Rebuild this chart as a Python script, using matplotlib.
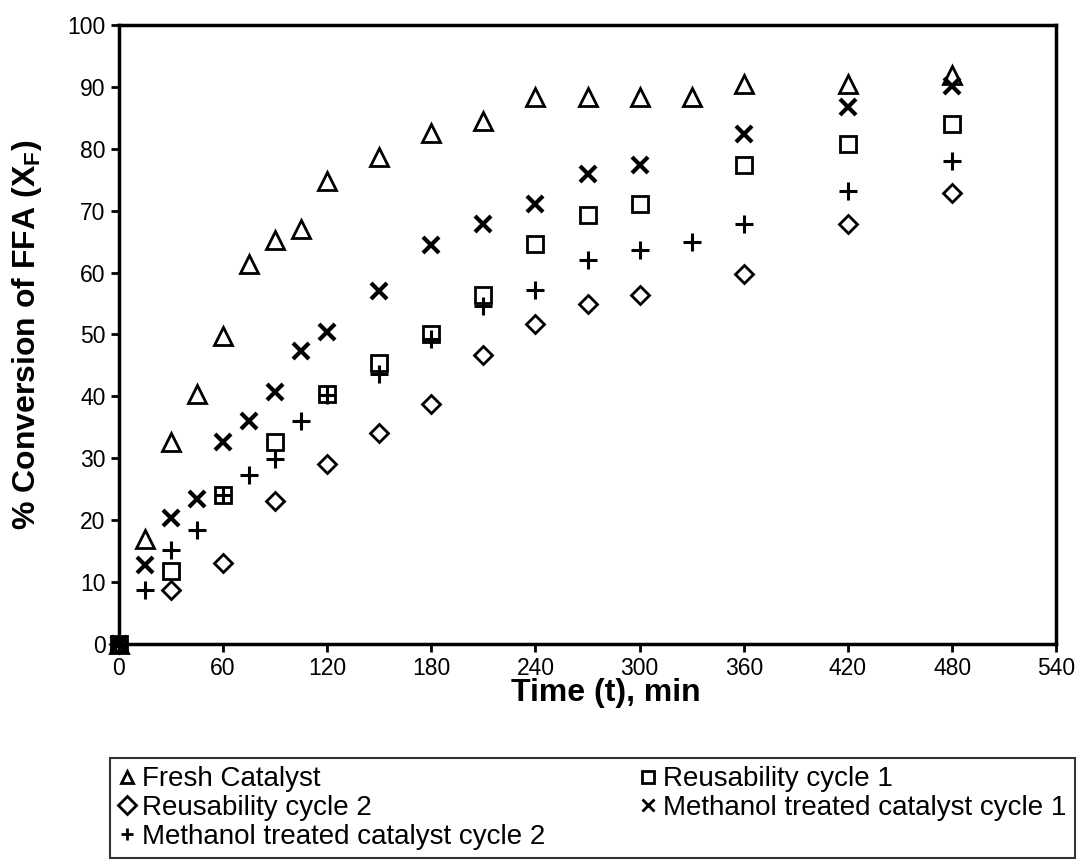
import matplotlib
matplotlib.use('Agg')
import matplotlib.pyplot as plt

plt.rcParams['font.family'] = ['Liberation Sans', 'DejaVu Sans']

# Time points (min) and % conversion of FFA for each run
t_fresh = [0, 15, 30, 45, 60, 75, 90, 105, 120, 150, 180, 210, 240, 270, 300, 330, 360, 420, 480]
x_fresh = [0, 17.0, 32.6, 40.4, 49.8, 61.3, 65.2, 67.1, 74.8, 78.7, 82.6, 84.5, 88.4, 88.4, 88.4, 88.4, 90.5, 90.5, 92.0]

t_reuse1 = [0, 30, 60, 90, 120, 150, 180, 210, 240, 270, 300, 360, 420, 480]
x_reuse1 = [0, 11.7, 24.0, 32.6, 40.3, 45.3, 50.0, 56.4, 64.6, 69.3, 71.0, 77.3, 80.8, 84.0]

t_reuse2 = [0, 30, 60, 90, 120, 150, 180, 210, 240, 270, 300, 360, 420, 480]
x_reuse2 = [0, 8.6, 13.0, 23.0, 29.1, 34.1, 38.7, 46.7, 51.7, 54.9, 56.4, 59.8, 67.9, 72.8]

t_meoh1 = [0, 15, 30, 45, 60, 75, 90, 105, 120, 150, 180, 210, 240, 270, 300, 360, 420, 480]
x_meoh1 = [0, 12.7, 20.3, 23.4, 32.6, 36.0, 40.7, 47.3, 50.4, 57.0, 64.5, 67.9, 71.1, 76.0, 77.4, 82.4, 86.8, 90.1]

t_meoh2 = [0, 15, 30, 45, 60, 75, 90, 105, 120, 150, 180, 210, 240, 270, 300, 330, 360, 420, 480]
x_meoh2 = [0, 8.7, 15.1, 18.4, 24.1, 27.2, 29.8, 36.0, 40.2, 43.6, 49.2, 54.6, 57.1, 62.1, 63.6, 65.0, 67.9, 73.1, 78.0]

fig = plt.figure(figsize=(10.8, 8.64), dpi=100)
ax = fig.add_axes([0.110, 0.255, 0.868, 0.716])

common = dict(linestyle='none', markeredgecolor='black', clip_on=False)
h_fresh, = ax.plot(t_fresh, x_fresh, marker='^', markersize=13, markerfacecolor='none',
                   markeredgewidth=2, label='Fresh Catalyst', **common)
h_r1, = ax.plot(t_reuse1, x_reuse1, marker='s', markersize=11, markerfacecolor='none',
                markeredgewidth=2, label='Reusability cycle 1', **common)
h_r2, = ax.plot(t_reuse2, x_reuse2, marker='D', markersize=9.5, markerfacecolor='none',
                markeredgewidth=2, label='Reusability cycle 2', **common)
h_m1, = ax.plot(t_meoh1, x_meoh1, marker='x', markersize=11, markeredgewidth=3,
                label='Methanol treated catalyst cycle 1', **common)
h_m2, = ax.plot(t_meoh2, x_meoh2, marker='+', markersize=13, markeredgewidth=2.2,
                label='Methanol treated catalyst cycle 2', **common)

ax.set_xlim(0, 540)
ax.set_ylim(0, 100)
ax.set_xticks(range(0, 541, 60))
ax.set_yticks(range(0, 101, 10))
ax.tick_params(axis='both', direction='out', length=6, width=2, labelsize=16.5,
               top=False, right=False)
for side in ['left', 'bottom', 'top', 'right']:
    ax.spines[side].set_linewidth(2.5)

ax.set_xlabel('Time (t), min', fontsize=23, fontweight='bold')
ax.set_ylabel('% Conversion of FFA (X$_\\mathregular{F}$)', fontsize=23, fontweight='bold')
ax.xaxis.set_label_coords(0.519, -0.055)
ax.yaxis.set_label_coords(-0.080, 0.50)

# row-wise order: Fresh | R1 / R2 | M1 / M2
handles = [h_fresh, h_r2, h_m2, h_r1, h_m1]
leg = fig.legend(handles=handles, labels=[h.get_label() for h in handles],
                 loc='upper left', bbox_to_anchor=(0.102, 0.1227), ncol=2,
                 fontsize=20, frameon=True, fancybox=False,
                 handlelength=0.6, handletextpad=0.25, borderpad=0.3, labelspacing=0.1,
                 columnspacing=3.4, borderaxespad=0)
leg.get_frame().set_edgecolor('black')
leg.get_frame().set_linewidth(1.5)
for h in leg.legend_handles:
    h.set_markersize(9)
    h.set_markeredgewidth(2)

fig.savefig('out.png', dpi=100, facecolor='white')
